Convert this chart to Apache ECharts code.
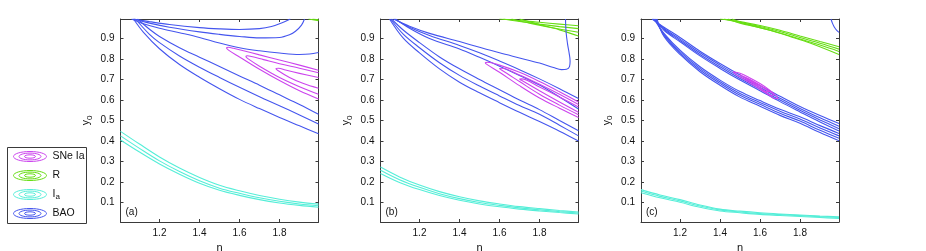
<!DOCTYPE html>
<html><head><meta charset="utf-8">
<script src="https://cdn.jsdelivr.net/npm/echarts@6/dist/echarts.min.js"></script>
<style>html,body{margin:0;padding:0;background:#fff}#c{width:926px;height:251px}</style>
</head><body><div id="c"></div>
<script>
// ---- axes ----
const nRange = [1.005, 1.995];
const yRange = [0.005, 0.995];
const xTicks = [1.2, 1.4, 1.6, 1.8];
const yTicks = [0.1, 0.2, 0.3, 0.4, 0.5, 0.6, 0.7, 0.8, 0.9];
const xName = 'n';
const panelLabels = ['(a)', '(b)', '(c)'];
const legendNames = ['SNe Ia', 'R', 'I_a', 'BAO'];

// ---- panel (a) ----
const a_Ia_1 = [[1.005,0.447],[1.1,0.385],[1.2,0.322],[1.3,0.268],[1.4,0.222],[1.5,0.184],[1.6,0.157],[1.7,0.134],[1.8,0.116],[1.9,0.102],[1.995,0.092]];
const a_Ia_2 = [[1.005,0.425],[1.1,0.364],[1.2,0.303],[1.3,0.251],[1.4,0.206],[1.5,0.170],[1.6,0.145],[1.7,0.123],[1.8,0.106],[1.9,0.093],[1.995,0.084]];
const a_Ia_3 = [[1.005,0.405],[1.1,0.346],[1.2,0.288],[1.3,0.238],[1.4,0.194],[1.5,0.160],[1.6,0.135],[1.7,0.114],[1.8,0.098],[1.9,0.086],[1.995,0.077]];
const a_R_1 = [[1.945,0.995],[1.995,0.987]];
const a_R_2 = [[1.965,0.995],[1.995,0.991]];
const a_SNe_1 = [[1.995,0.745],[1.9,0.77],[1.8,0.795],[1.7,0.82],[1.62,0.84],[1.57,0.852],[1.545,0.857],[1.535,0.853],[1.545,0.843],[1.6,0.81],[1.7,0.75],[1.8,0.695],[1.9,0.645],[1.995,0.605]];
const a_SNe_2 = [[1.995,0.733],[1.9,0.755],[1.8,0.777],[1.72,0.797],[1.66,0.812],[1.64,0.816],[1.632,0.812],[1.64,0.803],[1.7,0.765],[1.8,0.71],[1.9,0.665],[1.995,0.628]];
const a_SNe_3 = [[1.995,0.71],[1.9,0.73],[1.83,0.746],[1.795,0.755],[1.782,0.754],[1.79,0.745],[1.85,0.71],[1.92,0.68],[1.995,0.657]];
const a_BAO_1 = [[1.066,0.995],[1.15,0.982],[1.25,0.968],[1.4,0.953],[1.5,0.947],[1.6,0.944],[1.7,0.948],[1.76,0.958],[1.81,0.975],[1.854,0.995]];
const a_BAO_2 = [[1.072,0.995],[1.15,0.975],[1.25,0.955],[1.4,0.932],[1.5,0.92],[1.6,0.91],[1.7,0.903],[1.8,0.905],[1.85,0.918],[1.88,0.935],[1.91,0.965],[1.925,0.995]];
const a_BAO_3 = [[1.06,0.995],[1.12,0.972],[1.2,0.95],[1.3,0.928],[1.4,0.905],[1.5,0.878],[1.6,0.855],[1.7,0.84],[1.8,0.829],[1.9,0.822],[1.95,0.824],[1.995,0.832]];
const a_BAO_4 = [[1.09,0.995],[1.15,0.945],[1.2,0.91],[1.3,0.855],[1.4,0.809],[1.5,0.763],[1.6,0.717],[1.7,0.672],[1.8,0.625],[1.9,0.578],[1.995,0.53]];
const a_BAO_5 = [[1.08,0.995],[1.15,0.92],[1.2,0.88],[1.3,0.815],[1.4,0.76],[1.5,0.71],[1.6,0.662],[1.7,0.616],[1.8,0.572],[1.9,0.527],[1.995,0.483]];
const a_BAO_6 = [[1.07,0.995],[1.12,0.93],[1.2,0.85],[1.3,0.773],[1.4,0.711],[1.5,0.655],[1.6,0.603],[1.7,0.558],[1.8,0.515],[1.9,0.474],[1.995,0.435]];

// ---- panel (b) ----
const b_Ia_1 = [[1.005,0.273],[1.1,0.225],[1.2,0.185],[1.3,0.153],[1.4,0.128],[1.5,0.108],[1.6,0.093],[1.7,0.080],[1.8,0.070],[1.9,0.061],[1.995,0.054]];
const b_Ia_2 = [[1.005,0.257],[1.1,0.211],[1.2,0.174],[1.3,0.143],[1.4,0.119],[1.5,0.100],[1.6,0.086],[1.7,0.074],[1.8,0.064],[1.9,0.056],[1.995,0.049]];
const b_Ia_3 = [[1.005,0.242],[1.1,0.198],[1.2,0.163],[1.3,0.134],[1.4,0.111],[1.5,0.093],[1.6,0.079],[1.7,0.068],[1.8,0.059],[1.9,0.051],[1.995,0.044]];
const b_R_1 = [[1.6,0.995],[1.7,0.988],[1.8,0.979],[1.9,0.97],[1.995,0.962]];
const b_R_2 = [[1.62,0.995],[1.7,0.983],[1.8,0.97],[1.9,0.958],[1.995,0.948]];
const b_R_3 = [[1.66,0.995],[1.75,0.975],[1.85,0.955],[1.995,0.93]];
const b_R_4 = [[1.7,0.995],[1.8,0.968],[1.9,0.942],[1.995,0.912]];
const b_SNe_1 = [[1.995,0.59],[1.9,0.64],[1.8,0.69],[1.7,0.735],[1.6,0.77],[1.54,0.784],[1.529,0.782],[1.535,0.775],[1.6,0.735],[1.7,0.67],[1.8,0.61],[1.9,0.56],[1.995,0.515]];
const b_SNe_2 = [[1.995,0.578],[1.9,0.628],[1.8,0.677],[1.7,0.722],[1.61,0.755],[1.6,0.754],[1.61,0.746],[1.7,0.69],[1.8,0.628],[1.9,0.575],[1.995,0.528]];
const b_SNe_3 = [[1.995,0.566],[1.9,0.615],[1.8,0.663],[1.71,0.703],[1.7,0.702],[1.71,0.696],[1.8,0.645],[1.9,0.59],[1.995,0.54]];
const b_BAO_1 = [[1.07,0.995],[1.15,0.96],[1.25,0.925],[1.4,0.885],[1.5,0.857],[1.6,0.83],[1.7,0.805],[1.8,0.78],[1.87,0.758],[1.91,0.748],[1.935,0.75],[1.95,0.763],[1.953,0.79],[1.948,0.83],[1.94,0.875],[1.933,0.93],[1.93,0.995]];
const b_BAO_2 = [[1.075,0.995],[1.15,0.955],[1.25,0.915],[1.4,0.866],[1.5,0.83],[1.6,0.79],[1.7,0.748],[1.8,0.703],[1.9,0.655],[1.995,0.607]];
const b_BAO_3 = [[1.08,0.995],[1.15,0.95],[1.25,0.9],[1.4,0.849],[1.5,0.808],[1.6,0.765],[1.7,0.72],[1.8,0.673],[1.9,0.615],[1.995,0.556]];
const b_BAO_4 = [[1.06,0.995],[1.12,0.94],[1.2,0.88],[1.3,0.81],[1.4,0.752],[1.5,0.7],[1.6,0.65],[1.7,0.6],[1.8,0.553],[1.9,0.5],[1.995,0.45]];
const b_BAO_5 = [[1.055,0.995],[1.12,0.92],[1.2,0.855],[1.3,0.782],[1.4,0.72],[1.5,0.668],[1.6,0.62],[1.7,0.573],[1.8,0.53],[1.9,0.477],[1.995,0.425]];
const b_BAO_6 = [[1.05,0.995],[1.12,0.9],[1.2,0.83],[1.3,0.752],[1.4,0.687],[1.5,0.635],[1.6,0.587],[1.7,0.54],[1.8,0.495],[1.9,0.448],[1.995,0.40]];

// ---- panel (c) ----
const c_Ia_1 = [[1.005,0.163],[1.1,0.137],[1.2,0.114],[1.3,0.088],[1.4,0.068],[1.5,0.058],[1.6,0.050],[1.7,0.044],[1.8,0.039],[1.9,0.034],[1.995,0.030]];
const c_Ia_2 = [[1.005,0.156],[1.1,0.130],[1.2,0.108],[1.3,0.083],[1.4,0.064],[1.5,0.054],[1.6,0.046],[1.7,0.041],[1.8,0.036],[1.9,0.031],[1.995,0.027]];
const c_Ia_3 = [[1.005,0.148],[1.1,0.123],[1.2,0.101],[1.3,0.077],[1.4,0.059],[1.5,0.050],[1.6,0.042],[1.7,0.037],[1.8,0.032],[1.9,0.027],[1.995,0.022]];
const c_R_1 = [[1.40,0.995],[1.5,0.982],[1.6,0.963],[1.7,0.94],[1.8,0.912],[1.9,0.885],[1.995,0.86]];
const c_R_2 = [[1.42,0.995],[1.5,0.978],[1.6,0.958],[1.7,0.934],[1.8,0.905],[1.9,0.877],[1.995,0.848]];
const c_R_3 = [[1.44,0.995],[1.5,0.975],[1.6,0.953],[1.7,0.927],[1.8,0.897],[1.9,0.868],[1.995,0.837]];
const c_R_4 = [[1.46,0.995],[1.55,0.965],[1.65,0.94],[1.75,0.91],[1.85,0.878],[1.995,0.822]];
const c_SNe_1 = [[1.465,0.738],[1.5,0.73],[1.55,0.707],[1.6,0.68],[1.65,0.647],[1.685,0.617],[1.69,0.607],[1.675,0.607],[1.64,0.628],[1.59,0.658],[1.53,0.695],[1.48,0.725],[1.465,0.738]];
const c_SNe_2 = [[1.5,0.722],[1.55,0.7],[1.6,0.672],[1.65,0.64],[1.67,0.624],[1.66,0.622],[1.6,0.66],[1.54,0.697],[1.5,0.722]];
const c_SNe_3 = [[1.53,0.706],[1.58,0.682],[1.63,0.652],[1.645,0.641],[1.635,0.641],[1.58,0.674],[1.53,0.706]];
const c_BAO_1 = [[1.955,0.995],[1.962,0.975],[1.972,0.955],[1.985,0.938],[1.995,0.93]];
const c_BAO_2 = [[1.06,0.995],[1.12,0.955],[1.2,0.905],[1.3,0.838],[1.4,0.778],[1.5,0.722],[1.6,0.67],[1.7,0.618],[1.8,0.568],[1.9,0.524],[1.995,0.485]];
const c_BAO_3 = [[1.065,0.995],[1.12,0.95],[1.2,0.897],[1.3,0.83],[1.4,0.77],[1.5,0.713],[1.6,0.661],[1.7,0.609],[1.8,0.559],[1.9,0.513],[1.995,0.472]];
const c_BAO_4 = [[1.07,0.995],[1.12,0.945],[1.2,0.89],[1.3,0.822],[1.4,0.762],[1.5,0.705],[1.6,0.653],[1.7,0.6],[1.8,0.55],[1.9,0.503],[1.995,0.46]];
const c_BAO_5 = [[1.075,0.995],[1.12,0.94],[1.2,0.884],[1.3,0.815],[1.4,0.754],[1.5,0.697],[1.6,0.645],[1.7,0.592],[1.8,0.542],[1.9,0.493],[1.995,0.449]];
const c_BAO_6 = [[1.07,0.995],[1.12,0.925],[1.2,0.843],[1.3,0.762],[1.4,0.697],[1.5,0.641],[1.6,0.597],[1.7,0.555],[1.8,0.518],[1.9,0.475],[1.995,0.437]];
const c_BAO_7 = [[1.075,0.995],[1.12,0.92],[1.2,0.836],[1.3,0.754],[1.4,0.689],[1.5,0.632],[1.6,0.588],[1.7,0.545],[1.8,0.507],[1.9,0.463],[1.995,0.425]];
const c_BAO_8 = [[1.08,0.995],[1.12,0.915],[1.2,0.829],[1.3,0.746],[1.4,0.681],[1.5,0.623],[1.6,0.579],[1.7,0.535],[1.8,0.497],[1.9,0.452],[1.995,0.413]];
const c_BAO_9 = [[1.085,0.995],[1.12,0.91],[1.2,0.822],[1.3,0.738],[1.4,0.672],[1.5,0.614],[1.6,0.57],[1.7,0.525],[1.8,0.487],[1.9,0.441],[1.995,0.401]];

const colors = { sne: '#cc44ee', r: '#66dd11', ia: '#55eed8', bao: '#4455ee' };

const panels = [
  { ia: [a_Ia_1, a_Ia_2, a_Ia_3], r: [a_R_1, a_R_2], sne: [a_SNe_1, a_SNe_2, a_SNe_3], bao: [a_BAO_1, a_BAO_2, a_BAO_3, a_BAO_4, a_BAO_5, a_BAO_6] },
  { ia: [b_Ia_1, b_Ia_2, b_Ia_3], r: [b_R_1, b_R_2, b_R_3, b_R_4], sne: [b_SNe_1, b_SNe_2, b_SNe_3], bao: [b_BAO_1, b_BAO_2, b_BAO_3, b_BAO_4, b_BAO_5, b_BAO_6] },
  { ia: [c_Ia_1, c_Ia_2, c_Ia_3], r: [c_R_1, c_R_2, c_R_3, c_R_4], sne: [c_SNe_1, c_SNe_2, c_SNe_3], bao: [c_BAO_1, c_BAO_2, c_BAO_3, c_BAO_4, c_BAO_5, c_BAO_6, c_BAO_7, c_BAO_8, c_BAO_9] }
];

// ---- layout ----
const gridLefts = [120.5, 380.5, 641];
const gridW = 198, gridTop = 19, gridH = 203;
const frame = '#3a3a3a';
const FONT = 'Liberation Sans, Arial, Helvetica, sans-serif';

const grid = [], xAxis = [], yAxis = [], series = [], graphic = [];
panels.forEach((p, i) => {
  grid.push({ left: gridLefts[i], top: gridTop, width: gridW, height: gridH });
  const axBase = {
    type: 'value', gridIndex: i, min: nRange[0], max: nRange[1],
    axisLine: { show: true, lineStyle: { color: frame, width: 1 } },
    axisTick: { show: true, inside: true, length: 3, lineStyle: { color: frame }, customValues: xTicks },
    splitLine: { show: false }
  };
  xAxis.push(Object.assign({}, axBase, {
    position: 'bottom',
    axisLabel: { show: true, customValues: xTicks, margin: 6, color: '#111', fontSize: 10, fontFamily: FONT, formatter: v => v.toFixed(1) }
  }));
  xAxis.push(Object.assign({}, axBase, { position: 'top', axisLabel: { show: false } }));
  const ayBase = {
    type: 'value', gridIndex: i, min: yRange[0], max: yRange[1],
    axisLine: { show: true, lineStyle: { color: frame, width: 1 } },
    axisTick: { show: true, inside: true, length: 3, lineStyle: { color: frame }, customValues: yTicks },
    splitLine: { show: false }
  };
  yAxis.push(Object.assign({}, ayBase, {
    position: 'left',
    axisLabel: { show: true, customValues: yTicks, margin: 6, color: '#111', fontSize: 10, fontFamily: FONT, formatter: v => v.toFixed(1) },
    name: '{m|y}{s|0}', nameLocation: 'middle', nameGap: 27, nameRotate: 90,
    nameTextStyle: { color: '#111', fontFamily: FONT, rich: {
      m: { fontSize: 10.5, fontFamily: FONT, color: '#111', lineHeight: 14, verticalAlign: 'middle' },
      s: { fontSize: 8, fontFamily: FONT, color: '#111', lineHeight: 14, verticalAlign: 'bottom', padding: [6, 0, 0, 0] }
    } }
  }));
  yAxis.push(Object.assign({}, ayBase, { position: 'right', axisLabel: { show: false } }));

  const add = (arr, col) => arr.forEach(d => series.push({
    type: 'line', xAxisIndex: 2 * i, yAxisIndex: 2 * i, data: d, smooth: 0.35,
    showSymbol: false, symbol: 'none', silent: true, animation: false, clip: true,
    lineStyle: { color: col, width: 1.1 }
  }));
  add(p.ia, colors.ia);
  add(p.r, colors.r);
  add(p.bao, colors.bao);
  add(p.sne, colors.sne);

  graphic.push({ type: 'text', x: gridLefts[i] + 5, y: 207, style: { text: panelLabels[i], fontSize: 10, fontFamily: FONT, fill: '#111' } });
  graphic.push({ type: 'text', x: gridLefts[i] + gridW / 2, y: 242, style: { text: xName, fontSize: 11, fontFamily: FONT, fill: '#111', align: 'center', verticalAlign: 'top' } });
});

// ---- legend box ----
const legendColors = [colors.sne, colors.r, colors.ia, colors.bao];
const legendChildren = [{ type: 'rect', shape: { x: 0, y: 0, width: 79, height: 76 }, style: { fill: '#fff', stroke: frame, lineWidth: 1 } }];
legendNames.forEach((nm, k) => {
  const cy = 9 + 19 * k;
  [[16.5, 5], [11, 3.4], [5.5, 1.7]].forEach(r => legendChildren.push({
    type: 'ellipse', shape: { cx: 22.5, cy: cy, rx: r[0], ry: r[1] }, style: { fill: null, stroke: legendColors[k], lineWidth: 1 }
  }));
  const txt = nm === 'I_a' ? '{m|I}{s|a}' : '{m|' + nm + '}';
  legendChildren.push({ type: 'text', x: 45, y: cy, style: {
    text: txt, verticalAlign: 'middle', fill: '#111', fontFamily: FONT,
    rich: { m: { fontSize: 10.5, fontFamily: FONT, fill: '#111', lineHeight: 12 },
            s: { fontSize: 8, fontFamily: FONT, fill: '#111', lineHeight: 12, verticalAlign: 'bottom', padding: [7, 0, 0, 0] } }
  } });
});
graphic.push({ type: 'group', x: 7.5, y: 147.5, children: legendChildren });

const chart = echarts.init(document.getElementById('c'), null, { renderer: 'canvas' });
chart.setOption({ animation: false, backgroundColor: '#fff', grid, xAxis, yAxis, series, graphic });
</script></body></html>
